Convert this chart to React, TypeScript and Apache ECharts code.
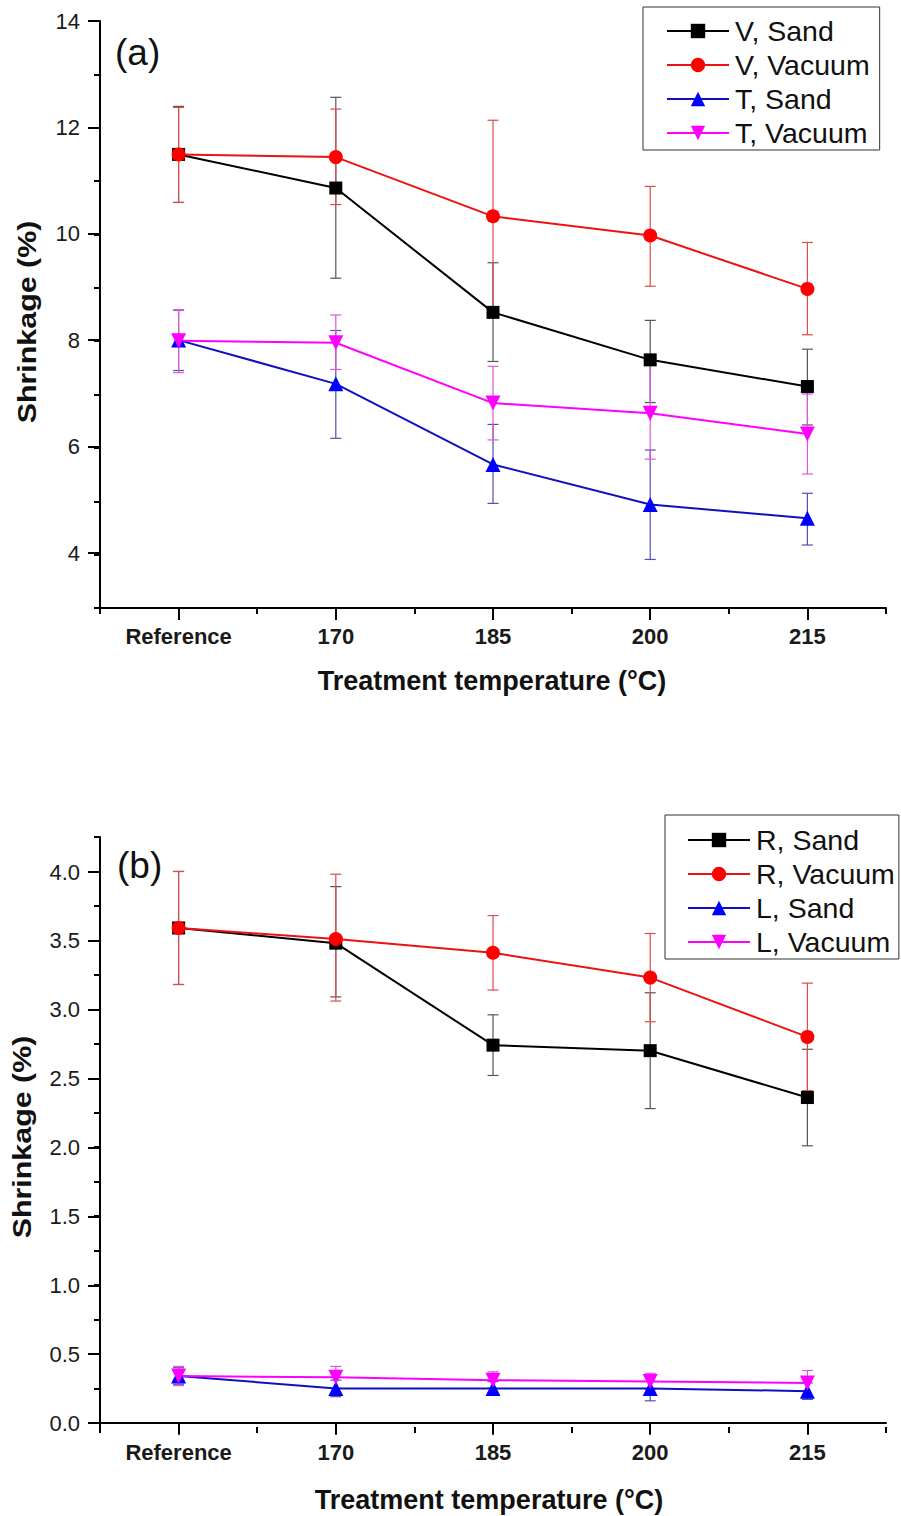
import React, { useEffect, useRef } from "react";
import * as echarts from "echarts";

// ---------- data ----------
const categories = ["Reference", "170", "185", "200", "215"];

// panel (a)
const vSand = [11.5, 10.87, 8.54, 7.65, 7.15];
const vSandLo = [10.6, 9.18, 7.62, 6.85, 6.43];
const vSandHi = [12.4, 12.57, 9.47, 8.39, 7.85];
const vVacuum = [11.5, 11.45, 10.34, 9.98, 8.98];
const vVacuumLo = [10.6, 10.56, 8.55, 9.03, 8.12];
const vVacuumHi = [12.38, 12.35, 12.14, 10.9, 9.85];
const tSand = [8.02, 7.2, 5.69, 4.94, 4.68];
const tSandLo = [7.45, 6.18, 4.96, 3.91, 4.18];
const tSandHi = [8.58, 8.2, 6.44, 5.96, 5.15];
const tVacuum = [8.01, 7.97, 6.84, 6.65, 6.26];
const tVacuumLo = [7.41, 7.47, 6.15, 5.79, 5.51];
const tVacuumHi = [8.59, 8.49, 7.53, 7.58, 7.01];

// panel (b)
const rSand = [3.59, 3.48, 2.74, 2.7, 2.36];
const rSandLo = [3.18, 3.09, 2.52, 2.28, 2.01];
const rSandHi = [4.0, 3.89, 2.96, 3.12, 2.71];
const rVacuum = [3.59, 3.51, 3.41, 3.23, 2.8];
const rVacuumLo = [3.18, 3.06, 3.14, 2.91, 2.41];
const rVacuumHi = [4.0, 3.98, 3.68, 3.55, 3.19];
const lSand = [0.34, 0.25, 0.25, 0.25, 0.23];
const lSandLo = [0.28, 0.19, 0.2, 0.16, 0.17];
const lSandHi = [0.4, 0.31, 0.3, 0.34, 0.29];
const lVacuum = [0.34, 0.33, 0.31, 0.3, 0.29];
const lVacuumLo = [0.27, 0.25, 0.25, 0.24, 0.2];
const lVacuumHi = [0.41, 0.41, 0.37, 0.36, 0.38];

const legendA = ["V, Sand", "V, Vacuum", "T, Sand", "T, Vacuum"];
const legendB = ["R, Sand", "R, Vacuum", "L, Sand", "L, Vacuum"];

const FONT = "Liberation Sans, Arial, sans-serif";
const DOWN_TRI = "path://M0,0L10,0L5,8.7Z";

function errRender(color: string) {
  return (params: any, api: any) => {
    const x = api.value(0);
    const lo = api.value(1);
    const hi = api.value(2);
    const p1 = api.coord([x, lo]);
    const p2 = api.coord([x, hi]);
    const w = 5.5;
    const st = { stroke: color, lineWidth: 1.2 };
    return {
      type: "group",
      children: [
        { type: "line", shape: { x1: p1[0], y1: p1[1], x2: p2[0], y2: p2[1] }, style: st },
        { type: "line", shape: { x1: p1[0] - w, y1: p1[1], x2: p1[0] + w, y2: p1[1] }, style: st },
        { type: "line", shape: { x1: p2[0] - w, y1: p2[1], x2: p2[0] + w, y2: p2[1] }, style: st },
      ],
    };
  };
}

function errSeries(name: string, lo: number[], hi: number[], color: string, xi: number, yi: number) {
  return {
    type: "custom",
    name,
    xAxisIndex: xi,
    yAxisIndex: yi,
    z: 1,
    clip: false,
    renderItem: errRender(color),
    encode: { x: 0, y: [1, 2] },
    data: categories.map((_, i) => [i, lo[i], hi[i]]),
  };
}

function lineSeries(name: string, vals: number[], color: string, lineColor: string, symbol: string, size: number, xi: number, yi: number) {
  return {
    type: "line",
    name,
    xAxisIndex: xi,
    yAxisIndex: yi,
    z: 3,
    symbol,
    symbolSize: size,
    showAllSymbol: true,
    lineStyle: { color: lineColor, width: 2 },
    itemStyle: { color, borderWidth: 0 },
    data: vals,
  };
}

const axisLineStyle = { color: "#000", width: 2 };

function legendCfg(data: string[], left: number, top: number, padding: number[]) {
  return {
    data,
    orient: "vertical",
    left,
    top,
    padding,
    itemWidth: 62,
    itemHeight: 18,
    itemGap: 4,
    borderColor: "#333",
    borderWidth: 1,
    backgroundColor: "#fff",
    lineStyle: { width: 2 },
    textStyle: { fontFamily: FONT, fontSize: 28.5, color: "#111", lineHeight: 30, padding: [0, 0, 0, 1] },
  };
}

export default function App() {
  const ref = useRef<HTMLDivElement>(null);
  useEffect(() => {
    if (!ref.current) return;
    const chart = echarts.init(ref.current, undefined, { renderer: "svg" });

    const catAxisMain = (gridIndex: number, margin: number) => ({
      type: "category",
      gridIndex,
      position: "bottom",
      data: categories,
      boundaryGap: true,
      axisLine: { show: true, lineStyle: axisLineStyle },
      axisTick: { show: true, alignWithLabel: true, length: 12, lineStyle: { width: 2, color: "#000" } },
      axisLabel: { show: true, margin, fontFamily: FONT, fontWeight: "bold", fontSize: 22, color: "#1a1a1a" },
      splitLine: { show: false },
    });
    const catAxisMinor = (gridIndex: number) => ({
      type: "category",
      gridIndex,
      position: "bottom",
      offset: 0,
      data: categories,
      boundaryGap: true,
      axisLine: { show: false },
      axisTick: { show: true, alignWithLabel: false, interval: 0, length: 6, lineStyle: { width: 2, color: "#000" } },
      axisLabel: { show: false },
      splitLine: { show: false },
    });
    const hiddenX = (gridIndex: number) => ({
      type: "category",
      gridIndex,
      data: categories,
      show: false,
    });

    const option: any = {
      animation: false,
      backgroundColor: "#fff",
      grid: [
        { left: 100, top: 21, width: 786, height: 587 }, // 0: data (a)
        { left: 100, top: 21, width: 786, height: 532 }, // 1: major ticks (a)
        { left: 100, top: 837, width: 786, height: 590 }, // 2: data (b)
        { left: 100, top: 837, width: 786, height: 586 }, // 3: minor ticks (b)
        { left: 100, top: 872, width: 786, height: 551 }, // 4: major ticks (b)
      ],
      xAxis: [
        catAxisMain(0, 17), // 0
        catAxisMinor(0), // 1
        hiddenX(1), // 2
        catAxisMain(2, 14), // 3
        catAxisMinor(2), // 4
        hiddenX(3), // 5
        hiddenX(4), // 6
      ],
      yAxis: [
        {
          type: "value", gridIndex: 0, min: 3, max: 14, interval: 1,
          axisLine: { show: true, lineStyle: axisLineStyle },
          axisTick: { show: true, length: 6, lineStyle: { width: 2, color: "#000" } },
          axisLabel: { show: false }, splitLine: { show: false },
        },
        {
          type: "value", gridIndex: 1, min: 4, max: 14, interval: 2,
          axisLine: { show: false },
          axisTick: { show: true, length: 12, lineStyle: { width: 2, color: "#000" } },
          axisLabel: { show: true, margin: 20, fontFamily: FONT, fontSize: 22, color: "#1a1a1a" },
          splitLine: { show: false },
        },
        {
          type: "value", gridIndex: 2, min: -0.03, max: 4.25,
          axisLine: { show: true, lineStyle: axisLineStyle },
          axisTick: { show: false }, axisLabel: { show: false }, splitLine: { show: false },
        },
        {
          type: "value", gridIndex: 3, min: 0, max: 4.25, interval: 0.25,
          axisLine: { show: false },
          axisTick: { show: true, length: 6, lineStyle: { width: 2, color: "#000" } },
          axisLabel: { show: false }, splitLine: { show: false },
        },
        {
          type: "value", gridIndex: 4, min: 0, max: 4, interval: 0.5,
          axisLine: { show: false },
          axisTick: { show: true, length: 12, lineStyle: { width: 2, color: "#000" } },
          axisLabel: {
            show: true, margin: 20, fontFamily: FONT, fontSize: 22, color: "#1a1a1a",
            formatter: (v: number) => v.toFixed(1),
          },
          splitLine: { show: false },
        },
      ],
      legend: [
        legendCfg(legendA, 643, 7, [9, 10, 2, 23]),
        legendCfg(legendB, 665, 815, [10, 4, 2, 22]),
      ],
      graphic: [
        { type: "text", x: 115, y: 52, style: { text: "(a)", fontFamily: FONT, fontSize: 37, fill: "#111", textVerticalAlign: "middle" } },
        { type: "text", x: 117, y: 865, style: { text: "(b)", fontFamily: FONT, fontSize: 37, fill: "#111", textVerticalAlign: "middle" } },
        {
          type: "text", x: 27, y: 322, rotation: Math.PI / 2, scaleX: 1.17,
          style: { text: "Shrinkage (%)", fontFamily: FONT, fontWeight: "bold", fontSize: 26, fill: "#111", textAlign: "center", textVerticalAlign: "middle" },
        },
        {
          type: "text", x: 22, y: 1137, rotation: Math.PI / 2, scaleX: 1.17,
          style: { text: "Shrinkage (%)", fontFamily: FONT, fontWeight: "bold", fontSize: 26, fill: "#111", textAlign: "center", textVerticalAlign: "middle" },
        },
        {
          type: "text", x: 492, y: 681,
          style: { text: "Treatment temperature (°C)", fontFamily: FONT, fontWeight: "bold", fontSize: 27, fill: "#111", textAlign: "center", textVerticalAlign: "middle" },
        },
        {
          type: "text", x: 489, y: 1500,
          style: { text: "Treatment temperature (°C)", fontFamily: FONT, fontWeight: "bold", fontSize: 27, fill: "#111", textAlign: "center", textVerticalAlign: "middle" },
        },
      ],
      series: [
        // panel (a) error bars
        errSeries("err V, Sand", vSandLo, vSandHi, "#555555", 0, 0),
        errSeries("err V, Vacuum", vVacuumLo, vVacuumHi, "#dd4b4b", 0, 0),
        errSeries("err T, Sand", tSandLo, tSandHi, "#5050b0", 0, 0),
        errSeries("err T, Vacuum", tVacuumLo, tVacuumHi, "#e055e0", 0, 0),
        // panel (a) lines
        lineSeries("V, Sand", vSand, "#000000", "#000000", "rect", 13, 0, 0),
        lineSeries("V, Vacuum", vVacuum, "#ff0000", "#ee1111", "circle", 14, 0, 0),
        lineSeries("T, Sand", tSand, "#0000ff", "#1010c0", "triangle", 15, 0, 0),
        lineSeries("T, Vacuum", tVacuum, "#ff00ff", "#ff00ff", DOWN_TRI, 15, 0, 0),
        // panel (b) error bars
        errSeries("err R, Sand", rSandLo, rSandHi, "#555555", 3, 2),
        errSeries("err R, Vacuum", rVacuumLo, rVacuumHi, "#dd4b4b", 3, 2),
        errSeries("err L, Sand", lSandLo, lSandHi, "#5050b0", 3, 2),
        errSeries("err L, Vacuum", lVacuumLo, lVacuumHi, "#e055e0", 3, 2),
        // panel (b) lines
        lineSeries("R, Sand", rSand, "#000000", "#000000", "rect", 13, 3, 2),
        lineSeries("R, Vacuum", rVacuum, "#ff0000", "#ee1111", "circle", 14, 3, 2),
        lineSeries("L, Sand", lSand, "#0000ff", "#1010c0", "triangle", 15, 3, 2),
        lineSeries("L, Vacuum", lVacuum, "#ff00ff", "#ff00ff", DOWN_TRI, 15, 3, 2),
      ],
    };
    chart.setOption(option);
    return () => chart.dispose();
  }, []);
  return (
    <div
      ref={ref}
      style={{ position: "absolute", left: 0, top: 0, width: 901, height: 1516, background: "#fff" }}
    />
  );
}
